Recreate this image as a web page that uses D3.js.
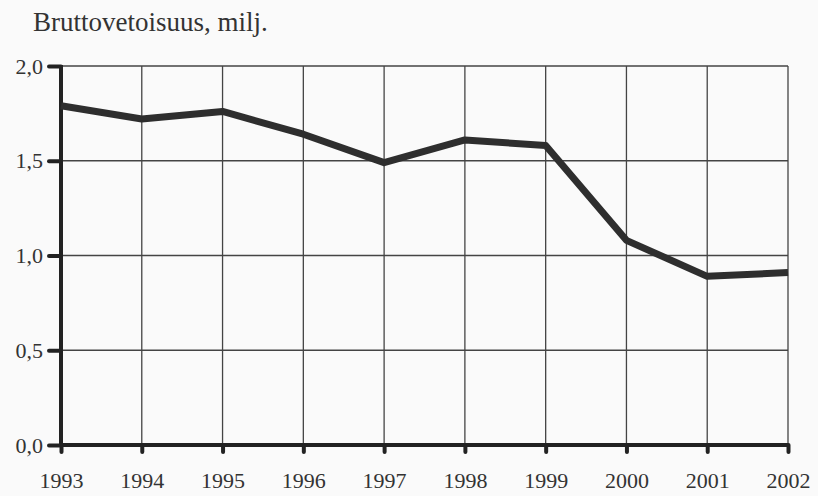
<!DOCTYPE html>
<html><head><meta charset="utf-8">
<script src="https://cdn.jsdelivr.net/npm/d3@7"></script>
<style>body{margin:0;background:#fafafa}svg{display:block}text{font-family:"Liberation Serif","DejaVu Serif",serif;fill:#333}</style>
</head><body>
<svg id="c" width="818" height="496"></svg>
<script>
const years = [1993,1994,1995,1996,1997,1998,1999,2000,2001,2002];
const tonnage = [1.79,1.72,1.76,1.64,1.49,1.61,1.58,1.08,0.89,0.91];
const yTicks = [0,0.5,1.0,1.5,2.0];
const title = "Bruttovetoisuus, milj.";

const svg = d3.select("#c");
const m = {l:61,r:30,t:66,b:51};
const W = 818, H = 496;
const x = d3.scaleLinear().domain([1993,2002]).range([m.l, W-m.r]);
const y = d3.scaleLinear().domain([0,2]).range([H-m.b, m.t]);
const fmt = d => d3.format(".1f")(d).replace(".", ",");

// grid
svg.append("g").selectAll("line.h").data(yTicks.filter(d=>d>0)).join("line")
  .attr("x1", m.l).attr("x2", W-m.r).attr("y1", d=>y(d)).attr("y2", d=>y(d))
  .attr("stroke","#444").attr("stroke-width",1.3);
svg.append("g").selectAll("line.v").data(years.slice(1)).join("line")
  .attr("x1", d=>x(d)).attr("x2", d=>x(d)).attr("y1", y(2)).attr("y2", y(0))
  .attr("stroke","#444").attr("stroke-width",1.3);

// axes
const yAxis = svg.append("g").attr("transform",`translate(${m.l},0)`)
  .call(d3.axisLeft(y).tickValues(yTicks).tickFormat(fmt).tickSize(12).tickPadding(6));
const xAxis = svg.append("g").attr("transform",`translate(0,${y(0)})`)
  .call(d3.axisBottom(x).tickValues(years).tickFormat(d3.format("d")).tickSize(7).tickPadding(20));
[yAxis,xAxis].forEach(a=>{
  a.attr("font-size",null).attr("font-family",null);
  a.select(".domain").remove();
  a.selectAll(".tick line").attr("stroke","#222").attr("stroke-width",4).attr("stroke-linecap","round");
  a.selectAll(".tick text").attr("fill","#333").style("font-size","22px").style("font-family",'"Liberation Serif",serif');
});
xAxis.selectAll(".tick text").attr("dy","0.71em");
svg.append("line").attr("x1",m.l).attr("x2",m.l).attr("y1",y(2)-1).attr("y2",y(0)+2)
  .attr("stroke","#222").attr("stroke-width",4);
svg.append("line").attr("x1",m.l).attr("x2",W-m.r).attr("y1",y(0)).attr("y2",y(0))
  .attr("stroke","#222").attr("stroke-width",4);

// line
svg.append("path").datum(years.map((d,i)=>[d,tonnage[i]]))
  .attr("d", d3.line().x(d=>x(d[0])).y(d=>y(d[1])))
  .attr("fill","none").attr("stroke","#2e2e2e").attr("stroke-width",7).attr("stroke-linejoin","round");

svg.append("text").attr("x",33).attr("y",31).style("font-size","27px").text(title);
</script>
</body></html>
